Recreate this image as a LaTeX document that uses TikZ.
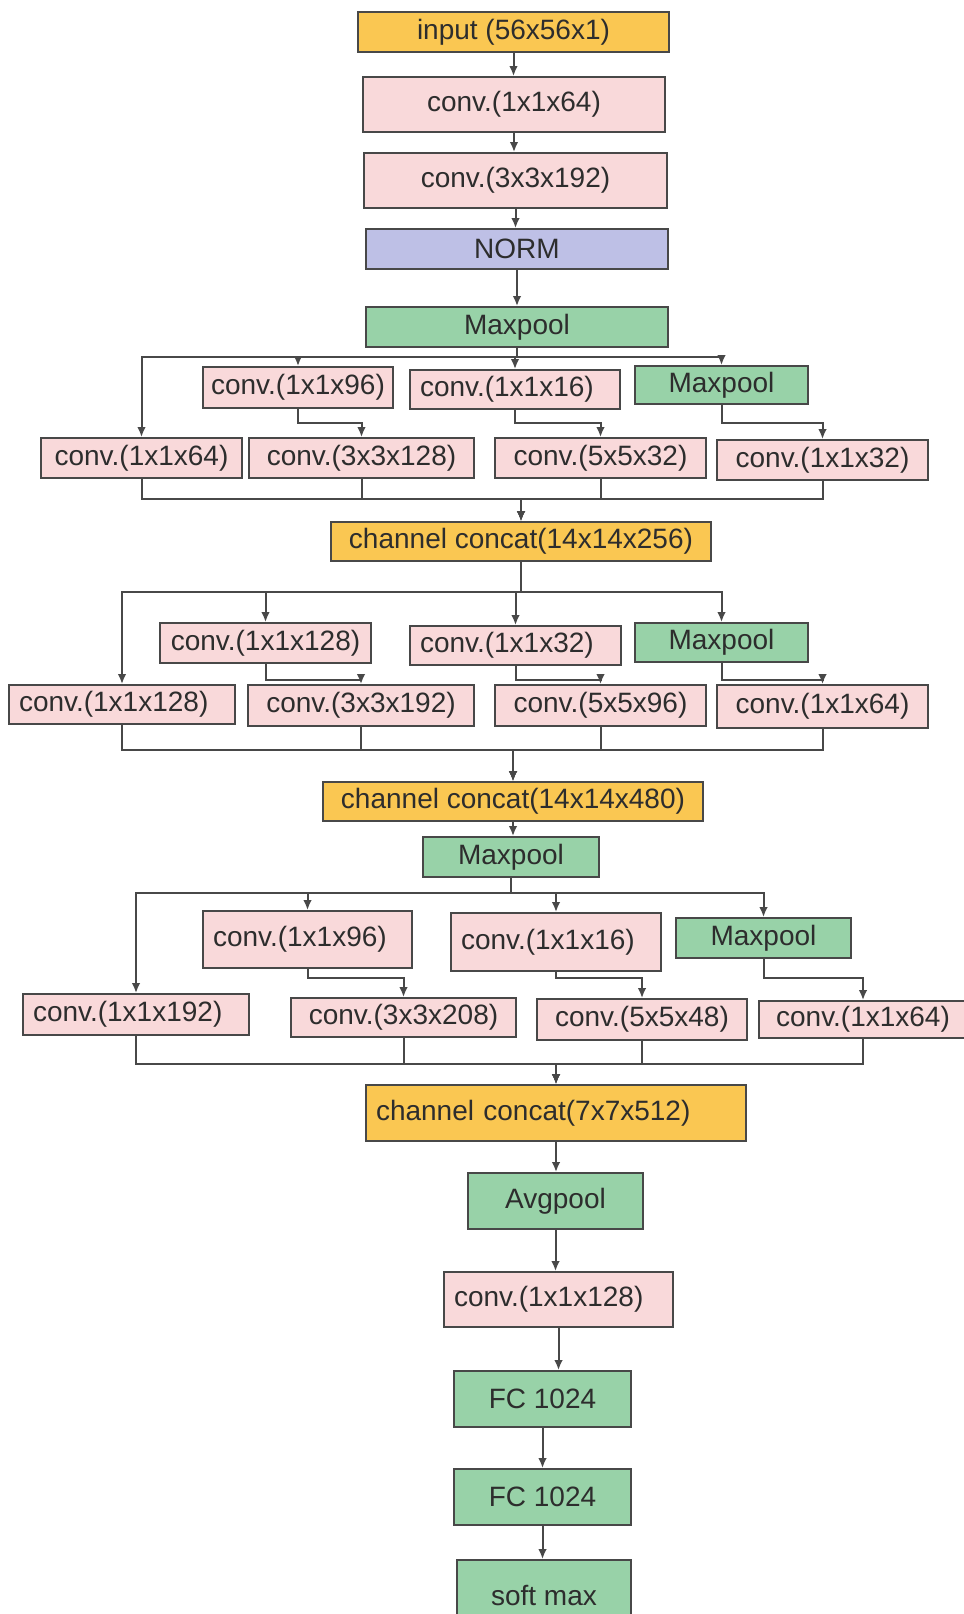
\documentclass[tikz,border=0pt]{standalone}
\usepackage{fontspec}
\setmainfont{Liberation Sans}
\usetikzlibrary{arrows.meta}
\definecolor{cyel}{RGB}{250,199,82}
\definecolor{cpink}{RGB}{249,217,218}
\definecolor{cblue}{RGB}{190,192,230}
\definecolor{cgreen}{RGB}{152,210,168}
\definecolor{cedge}{RGB}{72,72,72}
\definecolor{ctext}{RGB}{45,45,45}
\tikzset{
  box/.style={draw=cedge, line width=1.4pt, inner sep=0pt, text=ctext,
    font=\fontsize{21}{25}\selectfont},
  yel/.style={fill=cyel},
  pink/.style={fill=cpink},
  blue/.style={fill=cblue},
  green/.style={fill=cgreen},
  line/.style={draw=cedge, line width=1.5pt},
  arr/.style={line, -{Latex[length=7.5pt,width=6.5pt]}},
}
% centred text box: [style]{name}{x1}{y1}{x2}{y2}{text}
\newcommand{\mybox}[7][]{%
  \pgfmathsetlengthmacro\mbw{(#5-#3)*0.75pt}%
  \pgfmathsetlengthmacro\mbh{(#6-#4)*0.75pt}%
  \node[box,#1,minimum width=\mbw,minimum height=\mbh] (#2) at ({(#3+#5)/2},{(#4+#6)/2}) {#7};}
% left-aligned text box
\newcommand{\myboxL}[7][]{%
  \pgfmathsetlengthmacro\mbw{(#5-#3)*0.75pt}%
  \pgfmathsetlengthmacro\mbh{(#6-#4)*0.75pt}%
  \pgfmathsetlengthmacro\mbt{(#5-#3-20)*0.75pt}%
  \node[box,#1,minimum width=\mbw,minimum height=\mbh,inner xsep=7.5pt,text width=\mbt,align=left] (#2) at ({(#3+#5)/2},{(#4+#6)/2}) {#7};}
\begin{document}
\begin{tikzpicture}[x=0.75pt,y=-0.75pt]
\useasboundingbox (0,0) rectangle (964,1614);
\clip (0,0) rectangle (964,1614);
\fill[white] (0,0) rectangle (964,1614);

% top chain
\mybox[yel]{inp}{358}{12}{669}{52}{input (56x56x1)}
\mybox[pink]{c1}{363}{77}{665}{132}{conv.(1x1x64)}
\mybox[pink]{c2}{364}{153}{667}{208}{conv.(3x3x192)}
\mybox[blue]{norm}{366}{229}{668}{269}{NORM}
\mybox[green]{mp1}{366}{307}{668}{347}{Maxpool}

% section A
\mybox[pink]{a96}{203}{367}{393}{408}{conv.(1x1x96)}
\myboxL[pink]{a16}{410}{370}{620}{409}{conv.(1x1x16)}
\mybox[green]{amp}{635}{366}{808}{404}{Maxpool}
\mybox[pink]{a64}{41}{438}{242}{478}{conv.(1x1x64)}
\mybox[pink]{a3}{249}{438}{474}{478}{conv.(3x3x128)}
\mybox[pink]{a5}{495}{438}{706}{478}{conv.(5x5x32)}
\mybox[pink]{a32}{717}{440}{928}{480}{conv.(1x1x32)}
\mybox[yel]{cc1}{331}{522}{711}{561}{channel concat(14x14x256)}

% section B
\mybox[pink]{b128}{160}{623}{371}{663}{conv.(1x1x128)}
\myboxL[pink]{b32}{410}{626}{621}{665}{conv.(1x1x32)}
\mybox[green]{bmp}{635}{623}{808}{662}{Maxpool}
\myboxL[pink]{b128r}{9}{685}{235}{724}{conv.(1x1x128)}
\mybox[pink]{b3}{248}{685}{474}{726}{conv.(3x3x192)}
\mybox[pink]{b5}{495}{685}{706}{726}{conv.(5x5x96)}
\mybox[pink]{b64}{717}{685}{928}{728}{conv.(1x1x64)}
\mybox[yel]{cc2}{323}{782}{703}{821}{channel concat(14x14x480)}
\mybox[green]{mp3}{423}{837}{599}{877}{Maxpool}

% section C
\myboxL[pink]{c96}{203}{911}{412}{968}{conv.(1x1x96)}
\myboxL[pink]{c16}{451}{913}{661}{971}{conv.(1x1x16)}
\mybox[green]{cmp}{676}{918}{851}{958}{Maxpool}
\myboxL[pink]{c192}{23}{994}{249}{1035}{conv.(1x1x192)}
\mybox[pink]{c208}{291}{998}{516}{1037}{conv.(3x3x208)}
\mybox[pink]{c548}{537}{999}{747}{1040}{conv.(5x5x48)}
\mybox[pink]{c64}{759}{1001}{967}{1038}{conv.(1x1x64)}
\myboxL[yel]{cc3}{366}{1085}{746}{1141}{channel concat(7x7x512)}

% tail
\mybox[green]{avg}{468}{1173}{643}{1229}{Avgpool}
\myboxL[pink]{cf}{444}{1272}{673}{1327}{conv.(1x1x128)}
\mybox[green]{fc1}{454}{1371}{631}{1427}{FC 1024}
\mybox[green]{fc2}{454}{1469}{631}{1525}{FC 1024}
\mybox[green]{sm}{457}{1560}{631}{1630}{soft max}

% levels
\coordinate (busA) at (0,357);
\coordinate (elA) at (0,423);
\coordinate (colA) at (0,499);
\coordinate (busB) at (0,592);
\coordinate (elB) at (0,680);
\coordinate (colB) at (0,750);
\coordinate (busC) at (0,893);
\coordinate (elC) at (0,978);
\coordinate (colC) at (0,1064);

% top chain arrows
\draw[arr] (inp.south) -- (inp.south |- c1.north);
\draw[arr] (c1.south) -- (c1.south |- c2.north);
\draw[arr] (c2.south) -- (c2.south |- norm.north);
\draw[arr] (norm.south) -- (norm.south |- mp1.north);

% section A
\foreach \t in {a64,a96,a16,amp}
  \draw[arr] (mp1.south) |- (busA -| \t.north) -- (\t.north);
\draw[arr] (a96.south) |- (elA -| a3.north) -- (a3.north);
\draw[arr] (a16.south) |- (elA -| a5.north) -- (a5.north);
\draw[arr] (amp.south) |- (elA -| a32.north) -- (a32.north);
\foreach \s in {a64,a3,a5,a32}
  \draw[arr] (\s.south) |- (colA -| cc1.north) -- (cc1.north);

% section B
\foreach \t in {b128r,b128,b32,bmp}
  \draw[arr] (cc1.south) |- (busB -| \t.north) -- (\t.north);
\draw[arr] (b128.south) |- (elB -| b3.north) -- (b3.north);
\draw[arr] (b32.south) |- (elB -| b5.north) -- (b5.north);
\draw[arr] (bmp.south) |- (elB -| b64.north) -- (b64.north);
\foreach \s in {b128r,b3,b5,b64}
  \draw[arr] (\s.south) |- (colB -| cc2.north) -- (cc2.north);
\draw[arr] (cc2.south) -- (cc2.south |- mp3.north);

% section C
\foreach \t in {c192,c96,c16,cmp}
  \draw[arr] (mp3.south) |- (busC -| \t.north) -- (\t.north);
\draw[arr] (c96.south) |- (elC -| c208.north) -- (c208.north);
\draw[arr] (c16.south) |- (elC -| c548.north) -- (c548.north);
\draw[arr] (cmp.south) |- (elC -| c64.north) -- (c64.north);
\foreach \s in {c192,c208,c548,c64}
  \draw[arr] (\s.south) |- (colC -| cc3.north) -- (cc3.north);

% tail
\draw[arr] (cc3.south) -- (cc3.south |- avg.north);
\draw[arr] (avg.south) -- (avg.south |- cf.north);
\draw[arr] (cf.south) -- (cf.south |- fc1.north);
\draw[arr] (fc1.south) -- (fc1.south |- fc2.north);
\draw[arr] (fc2.south) -- (fc2.south |- sm.north);
\end{tikzpicture}
\end{document}
